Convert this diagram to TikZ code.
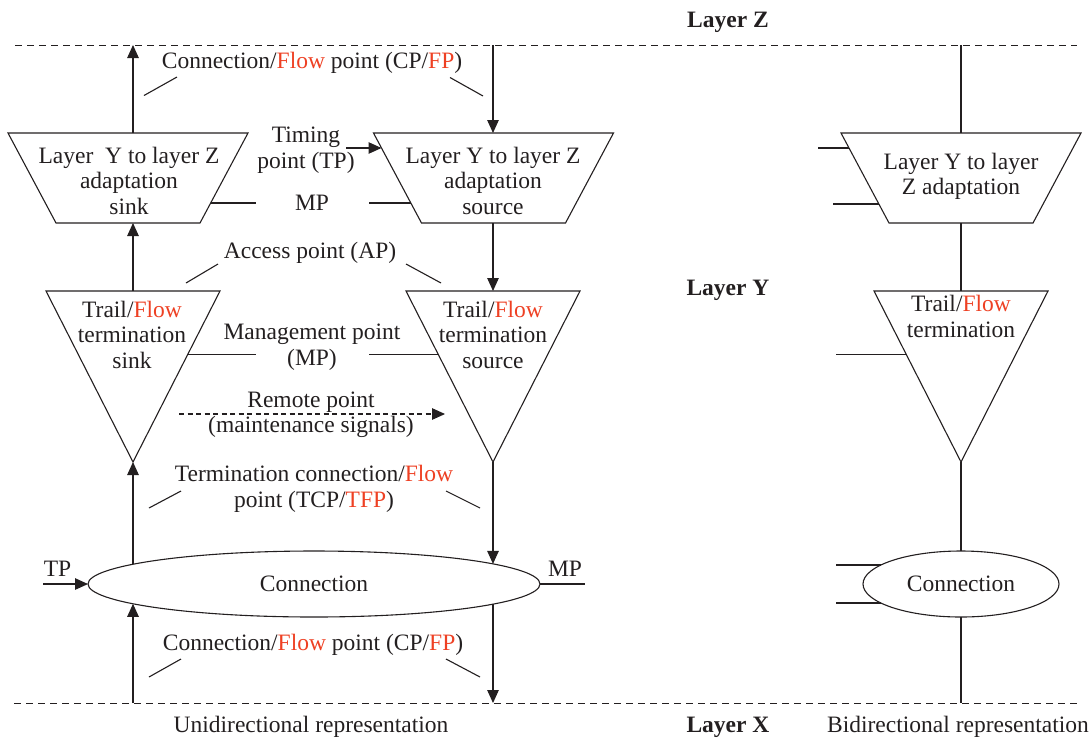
\documentclass[tikz,border=0pt]{standalone}
\usepackage{fontspec}
\setmainfont{Liberation Serif}
\usetikzlibrary{arrows.meta,shapes.geometric}
\definecolor{ink}{RGB}{35,31,32}
\definecolor{flowred}{RGB}{238,64,35}
\newcommand{\fl}[1]{\textcolor{flowred}{#1}}
\begin{document}
\begin{tikzpicture}[x=1pt,y=-1pt,
  every node/.style={font=\fontsize{23.5}{25.5}\selectfont, text=ink, inner sep=0pt, outer sep=0pt, align=center},
  ln/.style={draw=ink, line width=1.1pt},
  arr/.style={ln, -{Triangle[length=13pt,width=11.5pt]}},
  rmt/.style={arr, dash pattern=on 5pt off 3.5pt},
  layerline/.style={draw=ink, line width=1pt, dash pattern=on 7pt off 5pt},
  shp/.style={draw=ink, line width=1.1pt, line join=miter},
  ell/.style={ellipse, draw=ink, line width=1.1pt},
  bld/.style={font=\fontsize{23.5}{25.5}\selectfont\bfseries}
]
\useasboundingbox (0,0) rectangle (1089,740);

% layer lines
\coordinate (zL) at (15,45);  \coordinate (zR) at (1077,45);
\coordinate (xL) at (14,703); \coordinate (xR) at (1077,703);
\draw[layerline] (zL) -- (zR);
\draw[layerline] (xL) -- (xR);
\node[bld] (lz) at (728,22.5) {Layer Z};
\node[bld] (ly) at (728,290) {Layer Y};
\node[bld] (lx) at (728,727) {Layer X};

% ---------- unidirectional ----------
% adaptation sink
\coordinate (as1) at (8,133);  \coordinate (as2) at (248,133);
\coordinate (as3) at (200,223); \coordinate (as4) at (56,223);
\draw[shp] (as1) -- (as2) -- (as3) -- (as4) -- cycle;
\node (astext) at (129,180.5) {Layer~ Y to layer Z\\adaptation\\sink};
% adaptation source
\coordinate (ao1) at (373.5,133); \coordinate (ao2) at (613.5,133);
\coordinate (ao3) at (565.5,223); \coordinate (ao4) at (421.5,223);
\draw[shp] (ao1) -- (ao2) -- (ao3) -- (ao4) -- cycle;
\node (aotext) at (493,180.5) {Layer Y to layer Z\\adaptation\\source};
% trail termination sink
\coordinate (ts1) at (46,291); \coordinate (ts2) at (220,291); \coordinate (ts3) at (133,462);
\draw[shp] (ts1) -- (ts2) -- (ts3) -- cycle;
\node (tstext) at (132,334.5) {Trail/\fl{Flow}\\termination\\sink};
% trail termination source
\coordinate (to1) at (406,291); \coordinate (to2) at (580,291); \coordinate (to3) at (493,462);
\draw[shp] (to1) -- (to2) -- (to3) -- cycle;
\node (totext) at (493,334.5) {Trail/\fl{Flow}\\termination\\source};
% connection
\node[ell, minimum width=452pt, minimum height=66pt] (conn) at (314,584) {Connection};
\coordinate (cLL) at (133,603.8);
\coordinate (cUL) at (133,564.2);
\coordinate (cUR) at (493,563.9);
\coordinate (cLR) at (493,604.1);

% left column (upward)
\coordinate (lb) at (133,703);
\coordinate (ltop) at (133,45);
\draw[arr] (lb) -- (cLL);
\draw[arr] (cUL) -- (ts3);
\draw[arr] (133,291) -- (133,223);
\draw[arr] (133,133) -- (ltop);
% right column (downward)
\coordinate (rt) at (493,45);
\coordinate (rb) at (493,703);
\draw[arr] (rt) -- (493,133);
\draw[arr] (493,223) -- (493,291);
\draw[arr] (to3) -- (cUR);
\draw[arr] (cLR) -- (rb);

% labels
\node (cptop) at (312,63) {Connection/\fl{Flow} point (CP/\fl{FP})};
\draw[ln] (144,95.5) -- (177,77);
\draw[ln] (450,77.5) -- (483,96);

\node (tp) at (306,150) {Timing\\point (TP)};
\coordinate (tpstart) at (346,148);
\draw[arr] (tpstart) -- (381.5,148);

\node (mp1) at (312,203) {MP};
\draw[ln] (210.7,203) -- (256,203);
\draw[ln] (369,203) -- (410.8,203);

\node (ap) at (310,253) {Access point (AP)};
\draw[ln] (186,283) -- (218,264);
\draw[ln] (406,264) -- (441,283);

\node (mp2) at (312,347) {Management point\\(MP)};
\draw[ln] (187.8,354.3) -- (256,354.3);
\draw[ln] (369,354.3) -- (438.2,354.3);

\node (rp) at (311,414.5) {Remote point\\(maintenance signals)};
\coordinate (rps) at (179,414); \coordinate (rpe) at (445,414);
\draw[rmt] (rps) -- (rpe);

\node (tcp) at (314,489) {Termination connection/\fl{Flow}\\point (TCP/\fl{TFP})};
\draw[ln] (149,508) -- (181,491);
\draw[ln] (446,491) -- (480,508);

\node (tpl) at (57.5,569) {TP};
\coordinate (tpin) at (43,584);
\draw[arr] (tpin) -- (conn.west);
\node (mpr) at (565,569) {MP};
\coordinate (mpout) at (585,584);
\draw[ln] (conn.east) -- (mpout);

\node (cpbot) at (313,645) {Connection/\fl{Flow} point (CP/\fl{FP})};
\draw[ln] (149,677) -- (181,659);
\draw[ln] (446,659) -- (480,677);

\node (uni) at (311,727) {Unidirectional representation};

% ---------- bidirectional ----------
\coordinate (b1) at (841,133); \coordinate (b2) at (1081,133);
\coordinate (b3) at (1033,223); \coordinate (b4) at (889,223);
\draw[shp] (b1) -- (b2) -- (b3) -- (b4) -- cycle;
\node (btext) at (961,176.5) {Layer Y to layer\\Z adaptation};
\coordinate (bt1) at (874,291); \coordinate (bt2) at (1048,291); \coordinate (bt3) at (961,462);
\draw[shp] (bt1) -- (bt2) -- (bt3) -- cycle;
\node (bttext) at (961,316.5) {Trail/\fl{Flow}\\termination};
\node[ell, minimum width=196pt, minimum height=66pt] (rconn) at (961,584) {Connection};

\coordinate (bz) at (961,45); \coordinate (bx) at (961,703);
\draw[ln] (bz) -- (961,133);
\draw[ln] (961,223) -- (961,291);
\draw[ln] (bt3) -- (rconn.north);
\draw[ln] (rconn.south) -- (bx);

\draw[ln] (818,148) -- (849,148);
\draw[ln] (833,204) -- (878.9,204);
\draw[ln] (836,354.3) -- (906,354.3);
\coordinate (re1) at (880.9,565); \coordinate (re2) at (880.9,603);
\draw[ln] (re1) -- (836,565);
\draw[ln] (re2) -- (836,603);

\node (bi) at (958,727) {Bidirectional representation};
\end{tikzpicture}
\end{document}
